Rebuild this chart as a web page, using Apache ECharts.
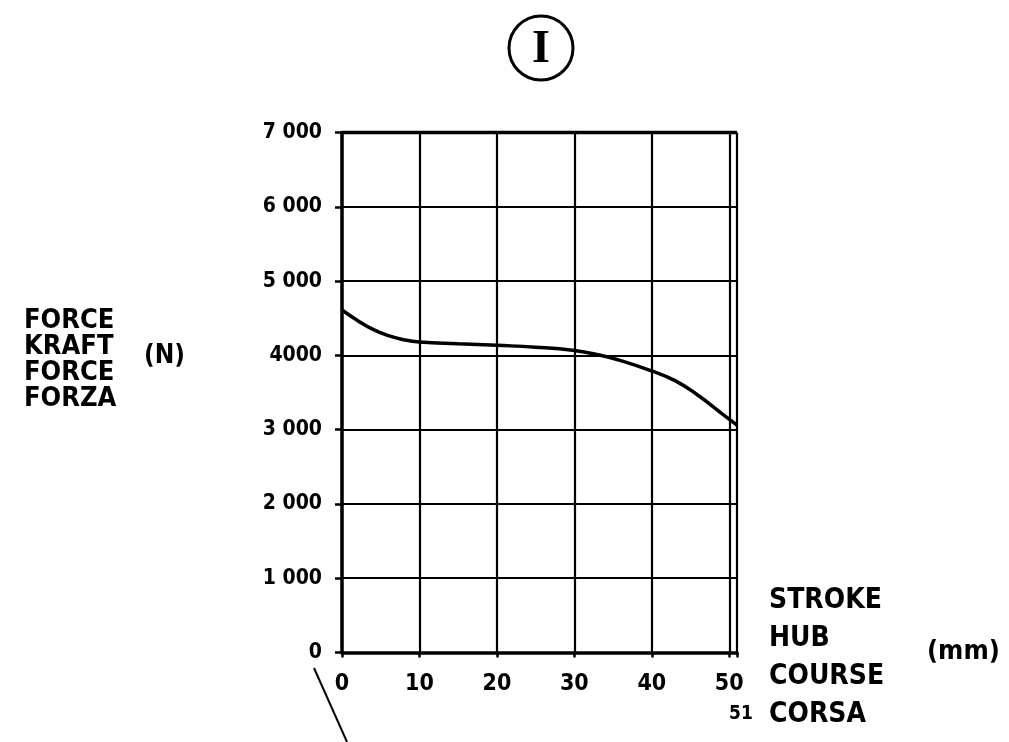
<!DOCTYPE html>
<html>
<head>
<meta charset="utf-8">
<script src="https://cdn.jsdelivr.net/npm/echarts@6/dist/echarts.min.js"></script>
<style>html,body{margin:0;padding:0;background:#fff;}#c{width:1009px;height:742px;}</style>
</head>
<body>
<div id="c"></div>
<script>
// Stroke (mm) and force (N)
const strokeValues = [0, 2, 4, 6, 8, 10, 15, 20, 25, 30, 33, 36, 40, 43, 46, 49, 51];
const forceValues = [4610, 4470, 4350, 4265, 4210, 4180, 4155, 4135, 4110, 4065, 4010, 3930, 3790, 3660, 3460, 3220, 3060];
const yTickLabels = ['0', '1 000', '2 000', '3 000', '4000', '5 000', '6 000', '7 000'];
const xTickLabels = ['0', '10', '20', '30', '40', '50'];
const yAxisTitle = ['FORCE', 'KRAFT', 'FORCE', 'FORZA'];
const yUnit = '(N)';
const xAxisTitle = ['STROKE', 'HUB', 'COURSE', 'CORSA'];
const xUnit = '(mm)';
const chartMark = 'I';

const FONT = '"DejaVu Sans Condensed", "DejaVu Sans", sans-serif';
const chart = echarts.init(document.getElementById('c'));
chart.setOption({
  backgroundColor: '#fff',
  animation: false,
  grid: { left: 342, right: 272, top: 132.5, bottom: 89.5, containLabel: false },
  xAxis: {
    type: 'value', min: 0, max: 51, interval: 10,
    axisLine: { show: true, onZero: false, lineStyle: { color: '#000', width: 3.5 } },
    axisTick: { show: true, length: 5, lineStyle: { color: '#000', width: 2.5 } },
    splitLine: { show: true, lineStyle: { color: '#000', width: 2.2 } },
    axisLabel: {
      color: '#000', fontFamily: FONT, fontWeight: 'bold', fontSize: 23, margin: 20,
      showMaxLabel: true,
      formatter: function (v) {
        if (v === 51) return '{s|51}';
        return xTickLabels[Math.round(v / 10)];
      },
      rich: { s: { fontSize: 19, fontFamily: FONT, color: '#000', padding: [32, 0, 0, 8] } }
    }
  },
  yAxis: {
    type: 'value', min: 0, max: 7000, interval: 1000,
    axisLine: { show: true, lineStyle: { color: '#000', width: 3.5 } },
    axisTick: { show: true, length: 7, lineStyle: { color: '#000', width: 2.5 } },
    splitLine: { show: true, lineStyle: { color: '#000', width: 2.2 } },
    axisLabel: {
      color: '#000', fontFamily: FONT, fontWeight: 'bold', fontSize: 21, margin: 20,
      formatter: function (v) { return yTickLabels[Math.round(v / 1000)]; }
    }
  },
  series: [{
    type: 'line', smooth: 0.5, symbol: 'none',
    data: strokeValues.map((x, i) => [x, forceValues[i]]),
    lineStyle: { color: '#000', width: 3.5 }
  }],
  graphic: [
    { type: 'line', shape: { x1: 342, y1: 132.5, x2: 737, y2: 132.5 }, style: { stroke: '#000', lineWidth: 3.5 } },
    { type: 'circle', shape: { cx: 541, cy: 48, r: 32 }, style: { fill: 'none', stroke: '#000', lineWidth: 3 } },
    { type: 'text', style: { text: chartMark, x: 541, y: 50, align: 'center', verticalAlign: 'middle', font: 'bold 46px "Liberation Serif", serif', fill: '#000' } },
    { type: 'line', shape: { x1: 314, y1: 668, x2: 347, y2: 742 }, style: { stroke: '#000', lineWidth: 2 } },
    { type: 'text', style: { text: yAxisTitle.join('\n'), x: 24, y: 308, lineHeight: 26, font: 'bold 27px ' + FONT, fill: '#000' } },
    { type: 'text', style: { text: yUnit, x: 144, y: 343, font: 'bold 26px ' + FONT, fill: '#000' } },
    { type: 'text', style: { text: xAxisTitle.join('\n'), x: 769, y: 582, lineHeight: 38, font: 'bold 28px ' + FONT, fill: '#000' } },
    { type: 'text', style: { text: xUnit, x: 927, y: 638, font: 'bold 27px ' + FONT, fill: '#000' } }
  ]
});
</script>
</body>
</html>
